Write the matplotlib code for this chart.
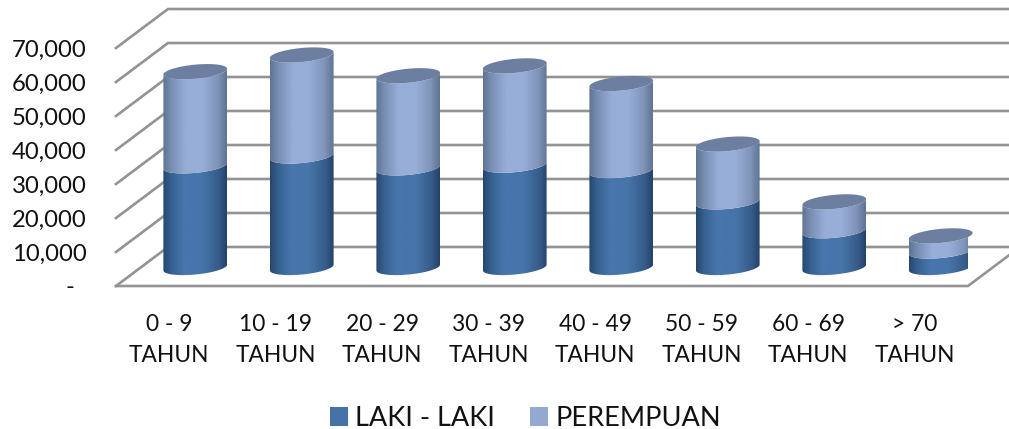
import numpy as np
import matplotlib
matplotlib.use("Agg")
import matplotlib.pyplot as plt
from matplotlib.colors import LinearSegmentedColormap
from matplotlib.patches import Patch, Polygon

categories = ["0 - 9\nTAHUN", "10 - 19\nTAHUN", "20 - 29\nTAHUN", "30 - 39\nTAHUN",
              "40 - 49\nTAHUN", "50 - 59\nTAHUN", "60 - 69\nTAHUN", "> 70\nTAHUN"]
laki = [29900, 32800, 29300, 30100, 28500, 19300, 10800, 4850]
perempuan = [27700, 29700, 27100, 29200, 25600, 17000, 8500, 4450]
yticks = [0, 10000, 20000, 30000, 40000, 50000, 60000, 70000]
ytick_labels = ["-  ", "10,000", "20,000", "30,000", "40,000", "50,000", "60,000", "70,000"]

W, H = 1009, 429
fig = plt.figure(figsize=(W / 100, H / 100), dpi=100)
plt.rcParams["font.family"] = ["Lato", "DejaVu Sans"]
L, R, B, T = 116, 968, 286, 48
ax = fig.add_axes([L / W, 1 - B / H, (R - L) / W, (B - T) / H])
ax.set_xlim(-0.5, 7.5)
ax.set_ylim(0, 70000)
for s in ax.spines.values():
    s.set_visible(False)
ax.patch.set_visible(False)

px = 8 / (R - L)
py = 70000 / (B - T)
depth_x, depth_y = 52 * px, 39 * py
grid = "#939393"

for v in yticks:
    ax.plot([-0.5, -0.5 + depth_x, 7.5 + depth_x], [v, v + depth_y, v + depth_y],
            color=grid, lw=1.9, clip_on=False, zorder=1, solid_joinstyle="miter")
ax.plot([-0.5, 7.5, 7.5 + depth_x], [0, 0, depth_y], color=grid, lw=1.9,
        clip_on=False, zorder=1, solid_joinstyle="miter")

dark = LinearSegmentedColormap.from_list("d", [(0, "#27466e"), (0.12, "#35608f"), (0.32, "#4776ad"),
                                               (0.62, "#4775aa"), (0.88, "#355b88"), (1, "#25426a")])
light = LinearSegmentedColormap.from_list("l", [(0, "#5f7592"), (0.14, "#7b90b5"), (0.36, "#97aed9"),
                                                (0.62, "#97aed8"), (0.86, "#8093b8"), (1, "#5f7392")])
top_col = "#6c7fa1"

A, Bm, tilt = 32, 7.0, np.deg2rad(5.5)


def ellipse(cx, cy, t):
    ex = A * np.cos(t)
    ey = Bm * np.sin(t)
    xp = ex * np.cos(tilt) - ey * np.sin(tilt)
    yp = ex * np.sin(tilt) + ey * np.cos(tilt)
    return cx + xp * px, cy + yp * py


lower = np.linspace(np.pi, 2 * np.pi, 60)
full = np.linspace(0, 2 * np.pi, 120)
grad = np.linspace(0, 1, 128)[None, :]


def body(cx, y0, y1, cmap, z):
    xa, ya = ellipse(cx, y0, lower)
    xb, yb = ellipse(cx, y1, lower)
    verts = np.r_[np.c_[xa, ya], np.c_[xb, yb][::-1]]
    poly = Polygon(verts, closed=True, transform=ax.transData, fc="none", ec="none")
    ax.add_patch(poly)
    im = ax.imshow(grad, cmap=cmap, aspect="auto", zorder=z, vmin=0, vmax=1,
                   extent=[cx - A * px, cx + A * px, y0 - 20 * py, y1 + 20 * py], clip_on=True)
    im.set_clip_path(poly)


for i, (a, b) in enumerate(zip(laki, perempuan)):
    cx = i + depth_x / 2
    base = depth_y / 2 - 1 * py
    body(cx, base, base + a, dark, 3 + i * 0.01)
    body(cx, base + a, base + a + b, light, 3.5 + i * 0.01)
    xt, yt = ellipse(cx, base + a + b, full)
    ax.fill(xt, yt, color=top_col, zorder=4, lw=0, clip_on=False)

ax.set_xlim(-0.5, 7.5)
ax.set_ylim(0, 70000)
ax.set_xticks(range(len(categories)))
ax.set_xticklabels(categories, fontsize=16.4, linespacing=1.58, color="#111111")
ax.set_yticks(yticks)
ax.set_yticklabels(ytick_labels, fontsize=17.2, color="#111111")
ax.tick_params(axis="x", length=0, pad=20)
ax.tick_params(axis="y", length=0, pad=21)

handles = [Patch(fc="#4573a7", label="LAKI - LAKI"), Patch(fc="#94a9d2", label="PEREMPUAN")]
fig.legend(handles=handles, ncol=2, loc="lower center", bbox_to_anchor=(525.5 / W, -0.061), frameon=False,
           fontsize=19.5, handlelength=0.67, handleheight=0.67, handletextpad=0.27,
           columnspacing=1.3, labelcolor="#111111")

fig.savefig("out.png", dpi=100)
